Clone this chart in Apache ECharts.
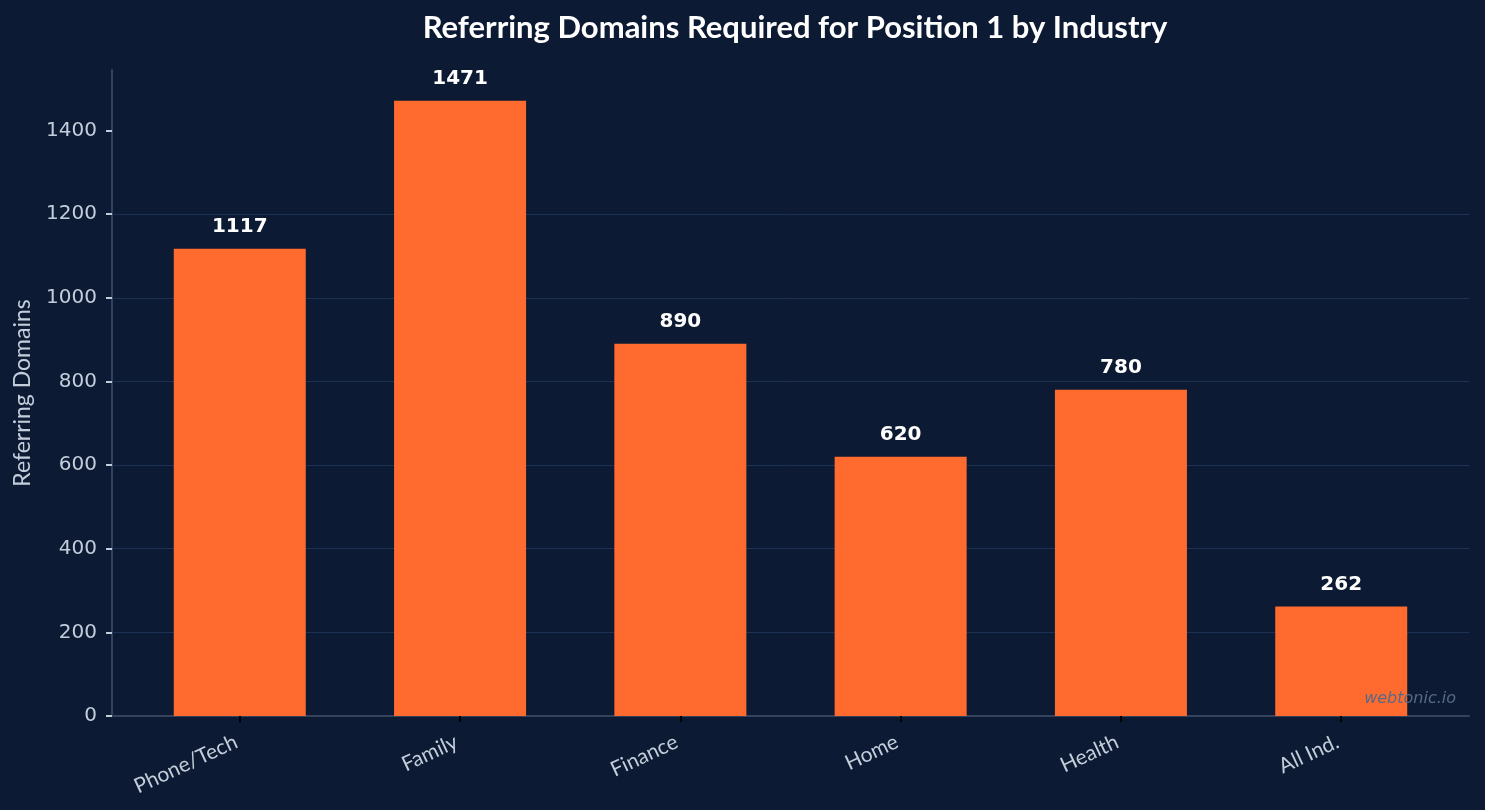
<!DOCTYPE html>
<html>
<head>
<meta charset="utf-8">
<script src="https://cdn.jsdelivr.net/npm/echarts@6/dist/echarts.min.js"></script>
<style>
  html, body { margin: 0; padding: 0; background: #0c1b33; }
  #chart { width: 1485px; height: 810px; }
</style>
</head>
<body>
<div id="chart"></div>
<script>
// referring domains needed to rank #1, per industry
const industries = ["Phone/Tech", "Family", "Finance", "Home", "Health", "All Ind."];
const domains = [1117, 1471, 890, 620, 780, 262];
const yTicks = [0, 200, 400, 600, 800, 1000, 1200, 1400];

const tickColor = "#c3cddb";
const chart = echarts.init(document.getElementById("chart"), null, { renderer: "canvas" });

chart.setOption({
  backgroundColor: "#0c1b33",
  animation: false,
  title: {
    text: "Referring Domains Required for Position 1 by Industry",
    left: 790, top: 7, textAlign: "center",
    textStyle: { color: "#ffffff", fontFamily: "Lato", fontWeight: "bold", fontSize: 31 }
  },
  grid: { left: 112, right: 16, top: 70, bottom: 94 },
  xAxis: {
    type: "value",
    min: -0.58, max: 5.58,
    axisLine: { show: true, onZero: false, lineStyle: { color: "#33435e", width: 2 } },
    axisTick: { show: true, customValues: industries.map((_, i) => i), length: 6, lineStyle: { color: "#000000", width: 2 } },
    axisLabel: {
      customValues: industries.map((_, i) => i),
      formatter: (v) => industries[v],
      rotate: 25, margin: 23, padding: [0, 4, 0, 0],
      color: tickColor, fontFamily: "Lato", fontSize: 21
    },
    splitLine: { show: false }
  },
  yAxis: {
    type: "value",
    min: 0, max: 1544.55, interval: 200,
    name: "Referring Domains",
    nameLocation: "middle", nameGap: 78, nameRotate: 90,
    nameTextStyle: { color: tickColor, fontFamily: "Lato", fontSize: 23 },
    axisLine: { show: true, onZero: false, lineStyle: { color: "#33435e", width: 2 } },
    axisTick: { show: true, customValues: yTicks, length: 6, lineStyle: { color: tickColor, width: 2 } },
    axisLabel: {
      customValues: yTicks, margin: 15, formatter: (v) => String(v),
      color: tickColor, fontFamily: "DejaVu Sans", fontSize: 20
    },
    splitLine: { show: true, showMaxLine: false, lineStyle: { color: "#1d3252", width: 1 } }
  },
  series: [{
    type: "bar",
    data: domains.map((v, i) => [i, v]),
    barWidth: 132,
    itemStyle: { color: "#ff6b2e" },
    label: {
      show: true, position: "top", distance: 12,
      color: "#ffffff", fontFamily: "DejaVu Sans", fontWeight: "bold", fontSize: 20
    }
  }],
  graphic: [{
    type: "text", right: 29, top: 691, z: 100,
    style: { text: "webtonic.io", fill: "#566a88", fontFamily: "DejaVu Sans", fontStyle: "italic", fontSize: 16 }
  }]
});
</script>
</body>
</html>
